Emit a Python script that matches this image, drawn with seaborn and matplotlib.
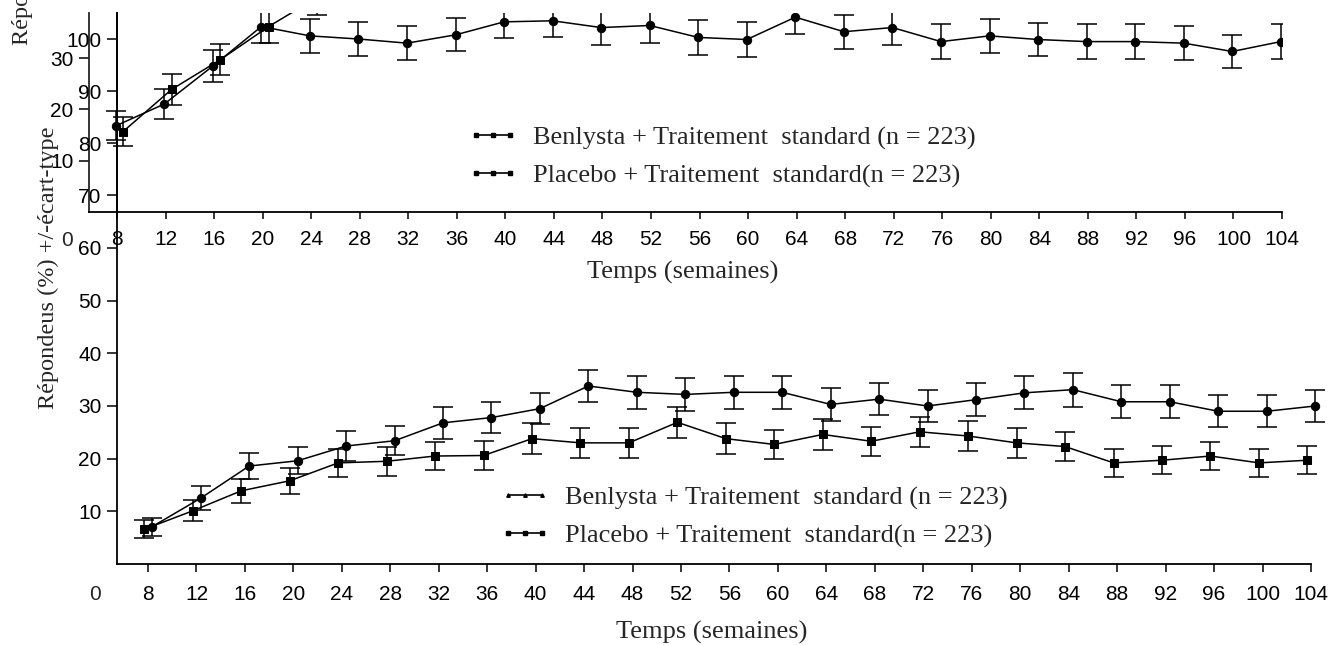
import numpy as np
import pandas as pd
import matplotlib
matplotlib.use("Agg")
import matplotlib.pyplot as plt
import seaborn as sns
from matplotlib.lines import Line2D

# ---------------- data ----------------
weeks = [8, 12, 16, 20, 24, 28, 32, 36, 40, 44, 48, 52, 56, 60, 64, 68, 72, 76, 80, 84, 88, 92, 96, 100, 104]
week_ticks = weeks

# lower panel (Répondeurs %)
benlysta_low = [7.1, 12.5, 18.6, 19.6, 22.4, 23.4, 26.8, 27.8, 29.5, 33.8, 32.6, 32.2, 32.6,
                32.6, 30.3, 31.3, 30.0, 31.2, 32.5, 33.1, 30.8, 30.8, 29.0, 29.0, 30.0]
benlysta_low_sd = [1.7, 2.3, 2.5, 2.6, 2.8, 2.8, 3.0, 3.0, 3.0, 3.1, 3.1, 3.1, 3.1,
                   3.1, 3.1, 3.1, 3.0, 3.1, 3.1, 3.2, 3.1, 3.1, 3.0, 3.0, 3.0]
placebo_low = [6.6, 10.1, 13.9, 15.8, 19.2, 19.5, 20.5, 20.6, 23.8, 23.0, 23.0, 26.9, 23.8,
               22.7, 24.6, 23.3, 25.1, 24.3, 23.0, 22.3, 19.2, 19.7, 20.5, 19.2, 19.7]
placebo_low_sd = [1.7, 2.0, 2.3, 2.5, 2.7, 2.7, 2.7, 2.7, 2.9, 2.8, 2.8, 2.9, 2.9,
                  2.8, 2.9, 2.8, 2.9, 2.9, 2.8, 2.8, 2.6, 2.7, 2.7, 2.6, 2.7]

# upper panel
top_a_weeks = weeks
top_a = [83.3, 87.5, 94.8, 102.4, 100.6, 100.0, 99.2, 100.8, 103.3, 103.5, 102.2, 102.6, 100.3,
         99.9, 104.2, 101.4, 102.2, 99.5, 100.6, 99.9, 99.5, 99.5, 99.2, 97.6, 99.5]
top_a_sd = [2.8, 2.8, 3.0, 3.2, 3.2, 3.2, 3.3, 3.2, 3.2, 3.2, 3.3, 3.3, 3.3,
            3.3, 3.3, 3.3, 3.3, 3.3, 3.2, 3.2, 3.3, 3.3, 3.3, 3.2, 3.3]
top_b_weeks = [8, 12, 16, 20, 24]
top_b = [82.2, 90.3, 96.0, 102.4, 108.0]
top_b_sd = [2.8, 3.0, 3.0, 3.2, 3.4]

top_yticks = [70, 80, 90, 100]
bottom_yticks = [10, 20, 30, 40, 50, 60]
hidden_yticks = [10, 20, 30]

label_benlysta = "Benlysta + Traitement  standard (n = 223)"
label_placebo = "Placebo + Traitement  standard(n = 223)"
xlabel = "Temps (semaines)"
ylabel = "Répondeus (%) +/-écart-type"
ylabel_cut = "Répondeurs (%)"

# ---------------- style ----------------
sns.set_style("ticks")
plt.rcParams['font.family'] = ['Liberation Sans', 'DejaVu Sans']
SERIF = ['Liberation Serif', 'DejaVu Serif']
TICK_FS = 15
SERIF_FS = 19

W, H = 1342, 645
fig = plt.figure(figsize=(W / 100, H / 100), dpi=100)
fig.patch.set_facecolor('white')

def fx(px):
    return px / W

def fy(py):
    return 1 - py / H

def style_axes(ax):
    ax.patch.set_alpha(0)
    for s in ['top', 'right']:
        ax.spines[s].set_visible(False)
    for s in ['left', 'bottom']:
        ax.spines[s].set_linewidth(1.3)
        ax.spines[s].set_color('black')
    ax.tick_params(colors='black', labelsize=TICK_FS, width=1.1)

# hidden layer (partially visible axis behind the top chart)
axh = fig.add_axes([fx(89), fy(212), fx(10), (212 - 13) / H])
axh.patch.set_alpha(0)
for s in ['top', 'right', 'bottom']:
    axh.spines[s].set_visible(False)
axh.spines['left'].set_linewidth(1.3)
axh.set_ylim(0, 199 / 5.133)
axh.set_xticks([])
axh.set_yticks(hidden_yticks)
axh.tick_params(axis='y', labelsize=TICK_FS, length=7, width=1.1, pad=4, colors='black')

# ---------------- lower chart ----------------
axb = fig.add_axes([fx(117), fy(564), fx(1311 - 117), (564 - 13) / H])
style_axes(axb)
df_low = pd.DataFrame({
    'week': np.concatenate([np.array(weeks) + 0.35, np.array(weeks) - 0.3]),
    'value': benlysta_low + placebo_low,
    'sd': benlysta_low_sd + placebo_low_sd,
    'group': [label_benlysta] * len(weeks) + [label_placebo] * len(weeks),
})
sns.lineplot(data=df_low, x='week', y='value', style='group', markers={label_benlysta: 'o', label_placebo: 's'},
             dashes=False, color='black', linewidth=1.1, markersize=6, markeredgecolor='black',
             ax=axb, legend=False, sort=False)
for g in [label_benlysta, label_placebo]:
    d = df_low[df_low.group == g]
    axb.errorbar(d.week, d.value, yerr=d.sd, fmt='none', ecolor='black', elinewidth=1.1, capsize=7, capthick=1.1)
for art in axb.lines + axb.collections:
    art.set_clip_on(False)
axb.set_xlim(8 - 31 / 12.115, 104)
axb.set_ylim(0, 551 / 5.267)
axb.set_xticks(week_ticks)
axb.set_yticks(bottom_yticks)
axb.tick_params(axis='x', length=6, pad=9)
axb.tick_params(axis='y', length=7, pad=4)
axb.set_xlabel('')
axb.set_ylabel('')

# ---------------- upper chart ----------------
axt = fig.add_axes([fx(89), fy(212), fx(1282 - 89), (212 - 13) / H])
style_axes(axt)
axt.spines['left'].set_position(('data', 8))
df_top = pd.DataFrame({
    'week': np.concatenate([np.array(top_a_weeks) - 0.1, np.array(top_b_weeks) + 0.5]),
    'value': top_a + top_b,
    'sd': top_a_sd + top_b_sd,
    'group': ['A'] * len(top_a_weeks) + ['B'] * len(top_b_weeks),
})
sns.lineplot(data=df_top, x='week', y='value', style='group', markers={'A': 'o', 'B': 's'},
             dashes=False, color='black', linewidth=1.1, markersize=6, markeredgecolor='black',
             ax=axt, legend=False, sort=False)
for g in ['A', 'B']:
    d = df_top[df_top.group == g]
    axt.errorbar(d.week, d.value, yerr=d.sd, fmt='none', ecolor='black', elinewidth=1.1, capsize=7, capthick=1.1)
axt.set_xlim(8 - 28 / 12.135, 104)
axt.set_ylim(70 - 17 / 5.2, 100 + 26 / 5.2)
axt.set_xticks(week_ticks)
axt.set_yticks(top_yticks)
axt.tick_params(axis='x', length=5, pad=8)
axt.tick_params(axis='y', length=7, pad=4)
axt.set_xlabel('')
axt.set_ylabel('')

# ---------------- legends ----------------
h_top = [Line2D([], [], color='black', lw=1.2, marker='s', markersize=3.5),
         Line2D([], [], color='black', lw=1.2, marker='s', markersize=3.5)]
fig.legend(h_top, [label_benlysta, label_placebo], loc='upper left',
           bbox_to_anchor=(fx(468), fy(126)), frameon=False, numpoints=3,
           prop={'family': SERIF, 'size': SERIF_FS}, handlelength=1.9, handletextpad=0.55,
           labelspacing=0.52, borderpad=0, borderaxespad=0)
h_bot = [Line2D([], [], color='black', lw=1.2, marker='^', markersize=2.5),
         Line2D([], [], color='black', lw=1.2, marker='s', markersize=3.5)]
fig.legend(h_bot, [label_benlysta, label_placebo], loc='upper left',
           bbox_to_anchor=(fx(500), fy(486)), frameon=False, numpoints=3,
           prop={'family': SERIF, 'size': SERIF_FS}, handlelength=1.9, handletextpad=0.55,
           labelspacing=0.52, borderpad=0, borderaxespad=0)

# ---------------- texts ----------------
fig.text(fx(683), fy(272), xlabel, ha='center', va='center', family=SERIF, fontsize=SERIF_FS)
fig.text(fx(712), fy(632), xlabel, ha='center', va='center', family=SERIF, fontsize=SERIF_FS)
fig.text(fx(48), fy(268), ylabel, ha='center', va='center', rotation=90, family=SERIF, fontsize=17.5)
fig.text(fx(22), fy(45), ylabel_cut, ha='center', va='bottom', rotation=90, family=SERIF, fontsize=17.5)
fig.text(fx(95), fy(594), '0', ha='center', va='center', fontsize=TICK_FS)
fig.text(fx(67), fy(241), '0', ha='center', va='center', fontsize=TICK_FS)

fig.savefig('out.png', dpi=100, facecolor='white')
